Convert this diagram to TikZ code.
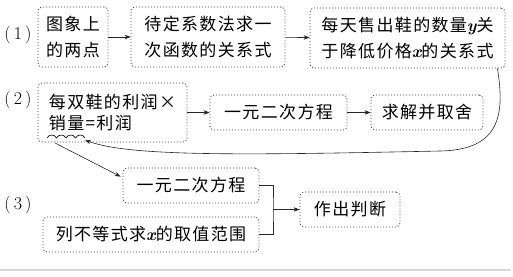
\documentclass[tikz,border=0pt]{standalone}
\usepackage{fontspec}
\newfontfamily\cjk[LetterSpace=8]{Noto Sans CJK SC}
\usetikzlibrary{arrows.meta}
\newcommand{\vx}[1]{{\fontfamily{lmr}\bfseries\itshape #1}}
\begin{document}
\begin{tikzpicture}[x=1pt,y=-1pt,
  box/.style={draw=black!75, dash pattern=on 1.1pt off 1.9pt, line width=0.8pt, rounded corners=4pt,
    inner sep=0pt, align=left, font=\cjk\fontsize{17}{26}\selectfont},
  arr/.style={-{Stealth[length=6pt,width=4.5pt]}, line width=0.6pt, black!85},
  lab/.style={font=\fontsize{18}{20}\selectfont, inner sep=0pt}]
\useasboundingbox (0,0) rectangle (513,276);

% labels
\node[lab] (l1) at (18,35) {(\,1\,)};
\node[lab] (l2) at (18,100) {(\,2\,)};
\node[lab] (l3) at (18,205) {(\,3\,)};

% row 1
\node[box, minimum width=70pt, minimum height=60pt] (b1) at (73,37) {图象上\\的两点};
\node[box, minimum width=154pt, minimum height=60pt] (b2) at (208,37) {待定系数法求一\\次函数的关系式};
\node[box, minimum width=195pt, minimum height=60pt] (b3) at (407.5,38) {每天售出鞋的数量\vx{y}关\\于降低价格\vx{x}的关系式};

% row 2
\node[box, minimum width=149pt, minimum height=59pt, font=\cjk\fontsize{17}{21}\selectfont] (b4) at (112.5,112.5) {每双鞋的利润×\\销量=利润};
\node[box, minimum width=137pt, minimum height=35pt] (b5) at (278.5,112.5) {一元二次方程};
\node[box, minimum width=112pt, minimum height=35pt] (b6) at (427,112.5) {求解并取舍};

% row 3
\node[box, minimum width=136pt, minimum height=35pt] (b7) at (191,185.5) {一元二次方程};
\node[box, minimum width=216pt, minimum height=35pt] (b8) at (151,234.5) {列不等式求\vx{x}的取值范围};
\node[box, minimum width=100pt, minimum height=35pt] (b9) at (350,209.5) {作出判断};

% arrows
\draw[arr] (b1) -- (b2);
\draw[arr] (b2) -- (b3);
\draw[arr] (b4) -- (b5);
\draw[arr] (b5) -- (b6);

% wavy underline
\coordinate (wL) at (47,138);
\coordinate (wR) at (85,140);
\coordinate (wS) at (55,143);
\draw[line width=0.6pt] (wL)
  \foreach \i in {1,...,4} { .. controls ++(2,-4) and ++(-2,-4) .. ++(9.5,0) };

% long curve back
\draw[arr] ([xshift=-8pt]b3.south east) .. controls (505,115) and (500,150) .. (440,151)
  .. controls (250,155) and (130,157) .. (wR);

% down to row 3
\draw[arr] (wS) -- ([xshift=-2pt,yshift=-9pt]b7.north west);

% bracket
\coordinate (j) at (273,209.5);
\draw[line width=0.6pt, black!85] (b7.east) -| (j) |- (b8.east);
\draw[arr] (j) -- (b9.west);

% faint bottom rule
\draw[black!15, line width=1.2pt] (0,270) -- (511,270);
\end{tikzpicture}
\end{document}
